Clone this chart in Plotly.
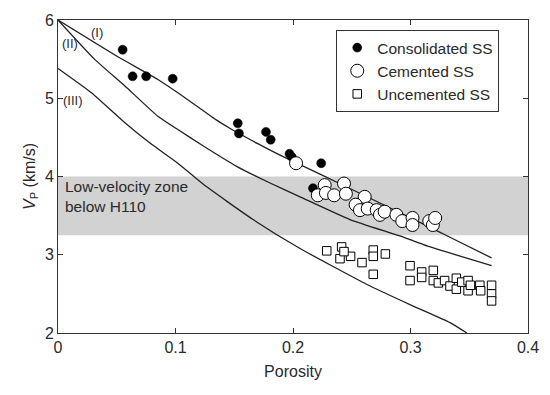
import plotly.graph_objects as go

# Model curves
curve1_x = [0.0, 0.051, 0.085, 0.102, 0.135, 0.148, 0.170, 0.192, 0.223, 0.270, 0.314, 0.334, 0.369]
curve1_y = [6.0, 5.53, 5.24, 5.07, 4.72, 4.60, 4.42, 4.25, 4.03, 3.69, 3.37, 3.22, 2.96]
curve2_x = [0.0, 0.031, 0.0567, 0.085, 0.102, 0.1237, 0.152, 0.180, 0.206, 0.2485, 0.291, 0.311, 0.334, 0.369]
curve2_y = [6.0, 5.50, 5.16, 4.77, 4.60, 4.39, 4.13, 3.92, 3.74, 3.45, 3.24, 3.13, 3.02, 2.86]
curve3_x = [0.0, 0.0284, 0.0567, 0.078, 0.102, 0.1237, 0.166, 0.206, 0.263, 0.300, 0.334, 0.348]
curve3_y = [5.38, 5.07, 4.69, 4.43, 4.17, 3.90, 3.45, 3.08, 2.62, 2.36, 2.13, 2.0]

# Consolidated SS
cons_x = [0.055, 0.0635, 0.075, 0.0976, 0.153, 0.154, 0.177, 0.181, 0.197, 0.199, 0.224, 0.217]
cons_y = [5.62, 5.28, 5.28, 5.25, 4.68, 4.55, 4.57, 4.47, 4.29, 4.25, 4.17, 3.85]

# Cemented SS
cem_x = [0.2026, 0.227, 0.2434, 0.2211, 0.228, 0.235, 0.245, 0.261, 0.2533, 0.257, 0.2636,
         0.2712, 0.274, 0.278, 0.288, 0.293, 0.3017, 0.3017, 0.316, 0.319, 0.321]
cem_y = [4.17, 3.89, 3.91, 3.76, 3.79, 3.76, 3.78, 3.74, 3.64, 3.57, 3.59,
         3.57, 3.51, 3.55, 3.51, 3.43, 3.47, 3.38, 3.43, 3.38, 3.47]

# Uncemented SS
unc_x = [0.2287, 0.2414, 0.24, 0.249, 0.2434, 0.2587, 0.2683, 0.2683, 0.2786, 0.2683,
         0.2996, 0.2996, 0.3095, 0.3095, 0.3194, 0.3194, 0.3237, 0.329, 0.3336,
         0.339, 0.339, 0.3436, 0.349, 0.349, 0.351, 0.359, 0.3597, 0.369, 0.369, 0.369]
unc_y = [3.05, 3.10, 2.95, 2.98, 3.04, 2.90, 3.06, 2.98, 3.01, 2.75,
         2.86, 2.67, 2.78, 2.71, 2.80, 2.67, 2.64, 2.67, 2.60,
         2.70, 2.56, 2.65, 2.67, 2.54, 2.61, 2.61, 2.54, 2.61, 2.50, 2.41]

# Low-velocity zone
lvz_low, lvz_high = 3.25, 4.0

# Curve labels
curve_labels = ["(I)", "(II)", "(III)"]
curve_label_x = [0.033, 0.0098, 0.0128]
curve_label_y = [5.84, 5.70, 4.97]

x_ticks = [0, 0.1, 0.2, 0.3, 0.4]
x_tick_text = ["0", "0.1", "0.2", "0.3", "0.4"]
y_ticks = [2, 3, 4, 5, 6]

FONT = "Arial, Liberation Sans, sans-serif"
TXT = "#2a2a2a"

fig = go.Figure()

for cx, cy in [(curve1_x, curve1_y), (curve2_x, curve2_y), (curve3_x, curve3_y)]:
    fig.add_trace(go.Scatter(x=cx, y=cy, mode="lines", line=dict(color="#222", width=1.3),
                             line_shape="spline", line_smoothing=0.5,
                             showlegend=False, hoverinfo="skip"))

fig.add_trace(go.Scatter(x=cons_x, y=cons_y, mode="markers", name="Consolidated SS",
                         marker=dict(symbol="circle", size=9, color="black",
                                     line=dict(color="black", width=0.5))))
fig.add_trace(go.Scatter(x=cem_x, y=cem_y, mode="markers", name="Cemented SS",
                         marker=dict(symbol="circle", size=13, color="white",
                                     line=dict(color="black", width=1))))
fig.add_trace(go.Scatter(x=unc_x, y=unc_y, mode="markers", name="Uncemented SS",
                         marker=dict(symbol="square", size=8.5, color="white",
                                     line=dict(color="black", width=1))))

fig.add_shape(type="rect", xref="paper", yref="y", x0=0, x1=1, y0=lvz_low, y1=lvz_high,
              fillcolor="#d2d2d2", line=dict(width=0), layer="below")

fig.add_annotation(x=0.004, y=3.75, xref="x", yref="y", text="Low-velocity zone<br>below H110",
                   showarrow=False, xanchor="left", yanchor="middle", align="left",
                   font=dict(size=15.5, color=TXT, family=FONT))

for txt, xx, yy in zip(curve_labels, curve_label_x, curve_label_y):
    fig.add_annotation(x=xx, y=yy, xref="x", yref="y", text=txt, showarrow=False,
                       xanchor="center", yanchor="middle",
                       font=dict(size=13, color=TXT, family=FONT))

axis_common = dict(showline=True, linecolor="#333", linewidth=1, mirror="ticks",
                   ticks="inside", ticklen=5, tickcolor="#333", showgrid=False,
                   zeroline=False, automargin=False,
                   tickfont=dict(size=16, color=TXT, family=FONT))

fig.update_xaxes(range=[0, 0.4], tickvals=x_ticks, ticktext=x_tick_text,
                 title=dict(text="Porosity", font=dict(size=16, color=TXT, family=FONT), standoff=10),
                 **axis_common)
fig.update_yaxes(range=[2, 6], tickvals=y_ticks,
                 title=dict(text="<i>V</i><sub>P</sub> (km/s)", font=dict(size=16, color=TXT, family=FONT), standoff=5),
                 **axis_common)

# page body adds an 8px offset; margins compensate so the plot area sits where the reference has it
fig.update_layout(
    width=550, height=395,
    margin=dict(l=50, r=30, t=12, b=70),
    plot_bgcolor="white", paper_bgcolor="white",
    font=dict(family=FONT),
    legend=dict(x=0.592, y=0.968, xanchor="left", yanchor="top",
                bordercolor="#333", borderwidth=1, bgcolor="white",
                font=dict(size=15.5, color=TXT, family=FONT),
                itemwidth=30, tracegroupgap=0),
)

fig.write_html("out.html")
